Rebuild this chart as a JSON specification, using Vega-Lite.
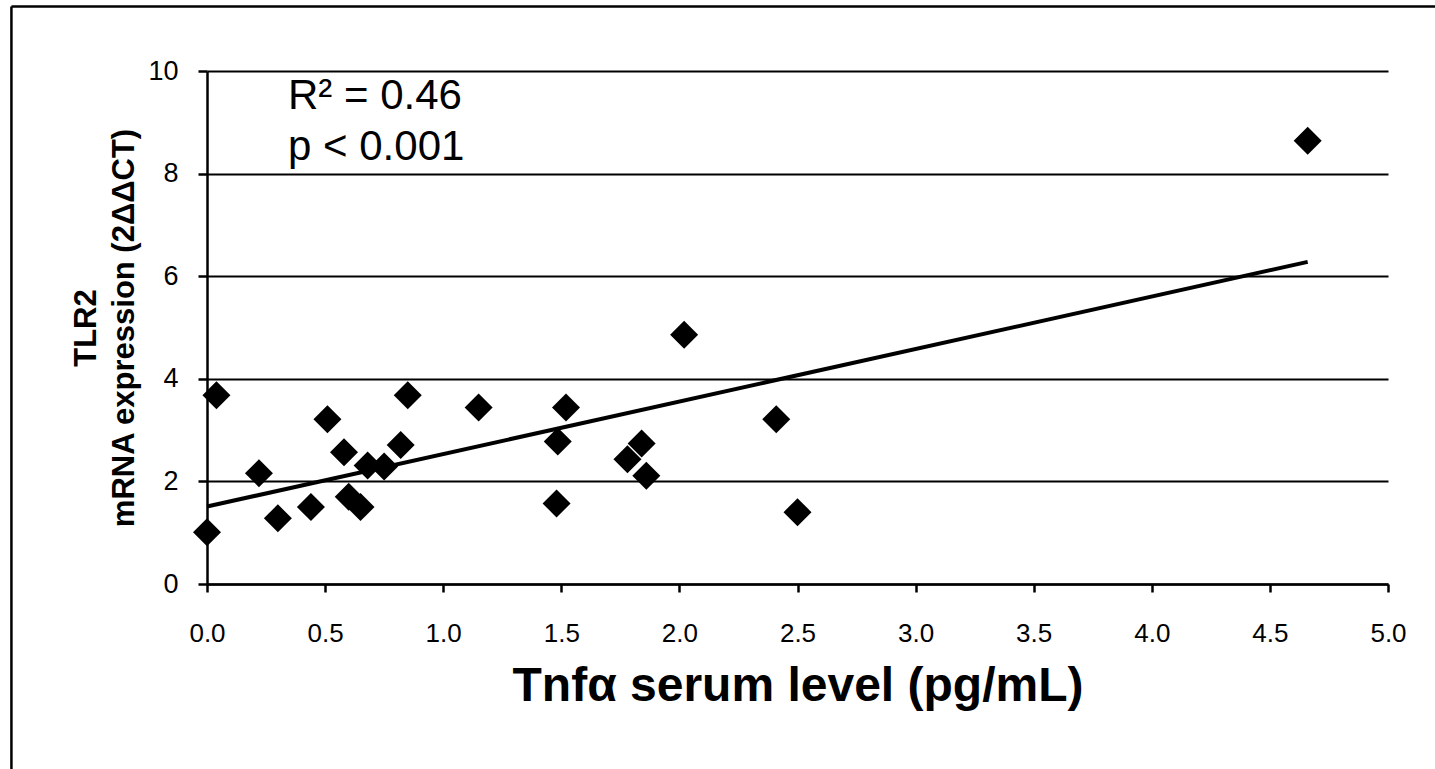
{
  "$schema": "https://vega.github.io/schema/vega-lite/v6.json",
  "width": 1181,
  "height": 513,
  "autosize": "none",
  "padding": {"left": 207, "top": 71, "right": 47, "bottom": 185},
  "background": "white",
  "config": {"view": {"stroke": null}, "font": "Liberation Sans"},
  "layer": [
    {
      "data": {"values": [
        {"tnf": 0.00, "tlr2": 1.01},
        {"tnf": 0.04, "tlr2": 3.68},
        {"tnf": 0.22, "tlr2": 2.16},
        {"tnf": 0.30, "tlr2": 1.28},
        {"tnf": 0.44, "tlr2": 1.50},
        {"tnf": 0.51, "tlr2": 3.21},
        {"tnf": 0.58, "tlr2": 2.57},
        {"tnf": 0.60, "tlr2": 1.70},
        {"tnf": 0.65, "tlr2": 1.50},
        {"tnf": 0.68, "tlr2": 2.31},
        {"tnf": 0.75, "tlr2": 2.29},
        {"tnf": 0.82, "tlr2": 2.71},
        {"tnf": 0.85, "tlr2": 3.68},
        {"tnf": 1.15, "tlr2": 3.44},
        {"tnf": 1.48, "tlr2": 1.57},
        {"tnf": 1.485, "tlr2": 2.78},
        {"tnf": 1.52, "tlr2": 3.44},
        {"tnf": 1.78, "tlr2": 2.43},
        {"tnf": 1.84, "tlr2": 2.74},
        {"tnf": 1.86, "tlr2": 2.11},
        {"tnf": 2.02, "tlr2": 4.86},
        {"tnf": 2.41, "tlr2": 3.21},
        {"tnf": 2.50, "tlr2": 1.40},
        {"tnf": 4.66, "tlr2": 8.64}
      ]},
      "mark": {"type": "point", "shape": "diamond", "filled": true, "size": 784, "color": "black", "opacity": 1},
      "encoding": {
        "x": {
          "field": "tnf", "type": "quantitative",
          "scale": {"domain": [0, 5], "nice": false, "zero": false},
          "axis": {
            "title": "Tnfα serum level (pg/mL)",
            "values": [0, 0.5, 1, 1.5, 2, 2.5, 3, 3.5, 4, 4.5, 5],
            "format": ".1f",
            "grid": false,
            "domainColor": "black", "domainWidth": 2.5,
            "tickColor": "black", "tickWidth": 2.5, "tickSize": 8,
            "labelFont": "Liberation Sans", "labelFontSize": 26, "labelColor": "black",
            "labelPadding": 28, "labelFlush": false, "labelOverlap": false, "labelBound": false,
            "titleFont": "Liberation Sans", "titleFontSize": 48, "titleFontWeight": "bold",
            "titleColor": "black", "titleBaseline": "alphabetic", "titleY": 116
          }
        },
        "y": {
          "field": "tlr2", "type": "quantitative",
          "scale": {"domain": [0, 10], "nice": false, "zero": false},
          "axis": {
            "title": ["TLR2", "mRNA expression (2ΔΔCT)"],
            "values": [0, 2, 4, 6, 8, 10],
            "format": "d",
            "grid": true, "gridColor": "black", "gridWidth": 2, "gridOpacity": 1,
            "domainColor": "black", "domainWidth": 2.5,
            "tickColor": "black", "tickWidth": 2.5, "tickSize": 9,
            "labelFont": "Liberation Sans", "labelFontSize": 27, "labelColor": "black",
            "labelPadding": 20,
            "titleFont": "Liberation Sans", "titleFontSize": 31, "titleFontWeight": "bold",
            "titleColor": "black", "titleLineHeight": 38, "titleAngle": -90,
            "titleBaseline": "top", "titleAlign": "center", "titleX": -136, "titleY": 256.5
          }
        }
      }
    },
    {
      "data": {"values": [
        {"tnf": 0, "fit": 1.51},
        {"tnf": 4.66, "fit": 6.28}
      ]},
      "mark": {"type": "line", "color": "black", "strokeWidth": 4},
      "encoding": {
        "x": {"field": "tnf", "type": "quantitative"},
        "y": {"field": "fit", "type": "quantitative"}
      }
    },
    {
      "data": {"values": [{"stat": "R² = 0.46 / p < 0.001"}]},
      "mark": {
        "type": "text",
        "text": ["R² = 0.46", "p < 0.001"],
        "align": "left", "baseline": "alphabetic",
        "font": "Liberation Sans", "fontSize": 42, "lineHeight": 51, "color": "black"
      },
      "encoding": {
        "x": {"datum": 0.343, "type": "quantitative"},
        "y": {"datum": 9.26, "type": "quantitative"}
      }
    },
    {
      "data": {"values": [{"frame": "top"}]},
      "mark": {"type": "rule", "color": "black", "strokeWidth": 2.5, "clip": false},
      "encoding": {
        "x": {"datum": -0.828, "type": "quantitative"},
        "x2": {"datum": 6},
        "y": {"datum": 11.257, "type": "quantitative"}
      }
    },
    {
      "data": {"values": [{"frame": "left"}]},
      "mark": {"type": "rule", "color": "black", "strokeWidth": 2.5, "clip": false},
      "encoding": {
        "x": {"datum": -0.828, "type": "quantitative"},
        "y": {"datum": 11.257, "type": "quantitative"},
        "y2": {"datum": -6}
      }
    }
  ]
}
